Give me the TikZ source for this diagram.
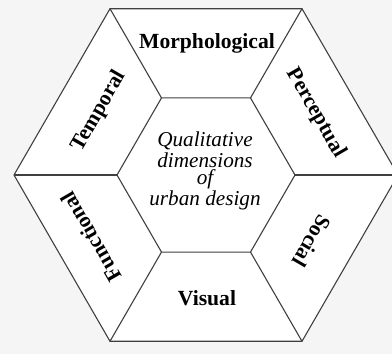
\documentclass[tikz,border=0pt]{standalone}
\usepackage{fontspec}
\setmainfont{Liberation Serif}
\usetikzlibrary{
    calc,
}
\tikzstyle{edge} = [draw=black!75, line width=0.55pt, line join=miter]
\tikzstyle{dim} = [font=\fontsize{10.8}{12}\selectfont\bfseries, inner sep=0pt]
\tikzstyle{core} = [font=\fontsize{10.6}{8.5}\selectfont\itshape,
    align=center, inner sep=0pt]

\begin{document}
\begin{tikzpicture}[x=0.5pt, y=-0.5pt]
        % Paper and frame
        \fill[black!4] (0,0) rectangle (392,354);
        \useasboundingbox (0,0) rectangle (392,354);
        \clip (0,0) rectangle (392,354);
        % Place corners
        \coordinate (c) at (206,175);
        \foreach \a in {0,60,...,300} {
            \coordinate (o\a) at ($(c)+(\a:192)$);
            \coordinate (i\a) at ($(c)+(\a:89)$);
        }
        % Draw hexagons
        \path [edge, fill=white] (o0) -- (o60) -- (o120) -- (o180) -- (o240) -- (o300) -- cycle;
        \path [edge] (i0) -- (i60) -- (i120) -- (i180) -- (i240) -- (i300) -- cycle;
        \foreach \a in {0,60,...,300}
            \path [edge] (i\a) -- (o\a);
        % Place labels
        \node [dim] (morph) at (207,43) {Morphological};
        \node [dim, rotate=-60] (percept) at (316,113) {Perceptual};
        \node [dim, rotate=-120] (social) at (312,241) {Social};
        \node [dim] (visual) at (207,298) {Visual};
        \node [dim, rotate=120] (funct) at (91,237) {Functional};
        \node [dim, rotate=60] (temporal) at (99,111) {Temporal};
        \node [core] (quality) at (205,171) {Qualitative\\dimensions\\of\\urban design};
    \end{tikzpicture}
\end{document}
